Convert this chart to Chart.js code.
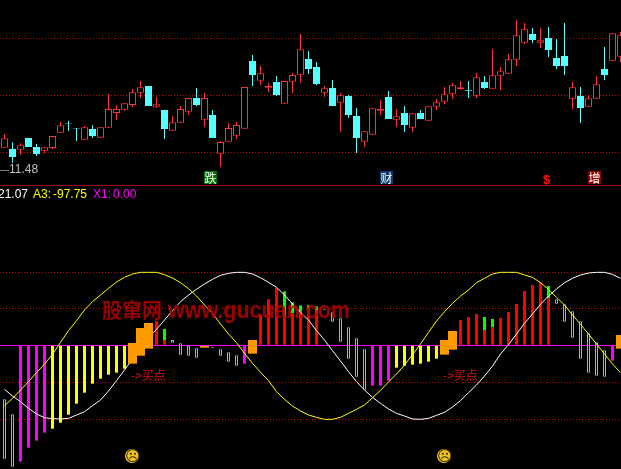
<!DOCTYPE html>
<html>
<head>
<meta charset="utf-8">
<title>股窜网</title>
<script src="https://cdn.jsdelivr.net/npm/chart.js@4"></script>
<style>
html, body { margin: 0; padding: 0; background: #000; width: 621px; height: 469px; overflow: hidden; }
canvas { position: absolute; left: 0; display: block; }
#priceChart { top: 0; }
#oscChart { top: 186px; }
#sep { position: absolute; left: 0; top: 185px; width: 621px; height: 1px; background: #a00000; }
.lbl { position: absolute; white-space: nowrap; line-height: 1; font-family: "Liberation Sans", sans-serif; }
.badge { position: absolute; top: 171px; width: 13px; height: 13px; color: #fff; text-align: center; font: 12px/13px "Noto Sans CJK SC", sans-serif; }
.buy { position: absolute; top: 368px; color: #e01010; white-space: nowrap; font: 12px/14px "Noto Sans CJK SC", sans-serif; }
.sad { position: absolute; top: 449px; width: 14px; height: 14px; border-radius: 7px; background: #f2c41e; color: #3a2a00; text-align: center; font: 15px/14px "DejaVu Sans", sans-serif; overflow: hidden; }
</style>
</head>
<body>
<canvas id="priceChart" width="621" height="185"></canvas>
<div id="sep"></div>
<canvas id="oscChart" width="621" height="283"></canvas>

<div class="lbl" style="left:0;top:163px;font-size:12px;color:#c0c0c0"><span style="font-size:9px">—</span>11.48</div>
<div class="badge" style="left:204px;background:#007000">跌</div>
<div class="badge" style="left:380px;background:#0a3a70">财</div>
<div class="badge" style="left:588px;background:#8b0000">增</div>
<div class="lbl" style="left:543px;top:173px;font-size:13px;font-weight:bold;color:#ff1010">$</div>

<div class="lbl" style="left:-2px;top:188px;font-size:12px;color:#fff">21.07</div>
<div class="lbl" style="left:33px;top:188px;font-size:12px;color:#ffff00">A3:</div>
<div class="lbl" style="left:53px;top:188px;font-size:12px;color:#ffff00">-97.75</div>
<div class="lbl" style="left:93px;top:188px;font-size:12px;color:#ff00ff">X1:</div>
<div class="lbl" style="left:113px;top:188px;font-size:12px;color:#ff00ff">0.00</div>

<div class="lbl" style="left:102px;top:298px;font:bold 20px/24px 'Noto Sans CJK SC',sans-serif;color:rgba(170,0,0,.9)">股窜网</div>
<div class="lbl" style="left:168px;top:297px;font-size:21.5px;line-height:24px;font-weight:bold;color:rgba(170,0,0,.9);transform:scale(1,1.12);transform-origin:left top">www.gucuan.com</div>

<div class="buy" style="left:131px">-&gt;买点</div>
<div class="buy" style="left:443px">-&gt;买点</div>
<div class="sad" style="left:125px">☹</div>
<div class="sad" style="left:437px">☹</div>

<script>
// candles
var opens = [12.06,12.02,12.00,12.35,12.08,11.97,12.05,12.51,12.80,12.65,
  12.30,12.62,12.36,12.66,13.10,13.20,13.34,13.71,13.91,13.29,
  13.19,12.57,12.81,13.14,13.55,12.90,13.04,11.88,12.24,12.42,
  12.63,14.66,14.07,13.86,14.03,13.38,14.04,14.25,14.72,14.48,
  13.71,13.85,13.41,13.61,13.01,12.24,12.45,13.17,13.58,12.90,
  13.10,12.66,13.10,12.87,13.29,13.44,13.68,13.82,13.79,13.62,
  14.03,13.83,14.22,14.28,14.70,15.21,15.47,15.21,15.35,14.75,
  14.81,13.53,13.61,13.29,13.53,14.42,14.67,14.79];
var highs = [12.46,12.22,12.19,12.35,12.17,12.07,12.41,12.83,12.86,12.65,
  12.71,12.73,12.67,13.67,13.33,13.39,13.82,14.06,13.91,13.58,
  13.19,13.01,13.31,13.55,13.85,13.70,13.19,12.26,12.80,12.83,
  13.88,14.84,14.51,14.00,14.21,14.06,14.29,15.47,14.96,14.63,
  13.91,14.09,13.70,13.64,13.25,12.55,13.24,13.49,13.76,13.22,
  13.31,13.09,13.19,13.30,13.52,13.88,14.00,14.06,14.06,14.30,
  14.21,15.02,14.48,14.87,15.89,15.80,15.65,15.65,15.68,15.32,
  15.80,14.03,13.88,13.61,14.21,15.08,15.49,15.53];
var lows = [12.06,11.60,11.84,12.08,11.81,11.90,12.02,12.51,12.56,12.26,
  12.30,12.35,12.36,12.66,12.89,13.16,13.28,13.55,13.31,13.25,
  12.32,12.57,12.81,13.04,13.31,12.68,12.35,11.48,12.24,12.32,
  12.63,13.91,13.94,13.73,13.61,13.38,13.70,14.00,14.27,13.94,
  13.58,13.31,12.53,12.95,11.90,12.08,12.45,13.04,12.92,12.68,
  12.53,12.53,12.92,12.87,13.19,13.37,13.52,13.79,13.55,13.55,
  13.82,13.83,13.79,14.28,14.51,15.17,15.20,15.05,14.78,14.42,
  14.24,13.22,12.80,13.29,13.53,14.09,14.67,14.63];
var closes = [12.34,11.78,12.13,12.08,11.87,12.07,12.41,12.73,12.79,12.64,
  12.67,12.41,12.67,13.22,13.22,13.39,13.72,13.87,13.31,13.36,
  12.62,12.82,13.22,13.55,13.34,13.55,12.35,12.23,12.65,12.74,
  13.88,14.24,14.29,13.91,13.64,14.06,14.24,15.01,14.42,13.97,
  13.84,13.31,13.63,13.04,12.35,12.55,13.24,13.22,12.92,13.00,
  12.74,13.09,12.92,13.30,13.42,13.66,13.93,13.87,13.77,14.17,
  13.85,14.23,14.35,14.71,15.43,15.61,15.29,15.28,14.99,14.51,
  14.51,13.87,13.25,13.54,13.96,14.24,15.49,15.43];
var priceGrid = [15.34, 13.63, 11.92];

// oscillator lines
var yellowLine = [-90.5,-79.5,-67,-54.5,-41,-28,-13.5,4.5,22,37,
  53,65.5,75.5,85.5,95,102,107,109.5,109.5,109.5,
  106,101,94,85,74,60.5,48,32,17,4,
  -12,-27,-40.5,-53,-69.5,-81,-91,-98.5,-104.5,-108,
  -111,-111,-108,-102,-96,-89.5,-78.5,-67.5,-55,-43,
  -29.5,-14,2,19.5,36.5,50.5,63,74,83,94,
  100.5,107,109.5,109.5,109.5,105.5,102,94,84,72,
  60.5,45.5,31.5,17,2,-13,-28,-41];
var whiteLine = [-66,-76,-84.5,-94.5,-103,-108.5,-110,-110.5,-109.5,-104.5,
  -99.5,-90.5,-82,-68.5,-53,-37,-20.5,-3.5,12,24,
  38,52,65.5,75.5,84,92,99,105,108,109.5,
  109.5,107,101.5,94.5,87,75.5,62,49.5,38,22,
  8,-8,-23.5,-39.5,-54.5,-67,-78,-87,-95.5,-102,
  -106,-110.5,-111,-109.5,-105,-100.5,-92.5,-83,-71,-59.5,
  -46,-31,-13,1,17,33,47,61.5,74,84.5,
  94,100.5,105.5,108.5,109.5,109.5,106.5,100.5];

// oscillator bars: top, bottom and which colour each one has
var barTop = [-81,-103.5,0,0,0,0,0,0,0,0,
  0,0,0,0,0,0,3.5,26,33.5,36.5,
  8,8,3,0,-4.5,0,-2.5,-6,-10.5,-15,
  0,8,46.5,69,86,41,48,50.5,53,53,
  54.5,49.5,40.5,27,10.5,-6,0,0,0,0,
  0,0,0,0,0,8,21.5,38,42.5,47,
  23,27,41,50,62,81.5,90.5,95,71,69,
  61.5,51,36,18,4.5,-7.5,0,15.5];
var barBottom = [-170,-182,-174.5,-153.5,-143,-131,-125,-116,-104,-87.5,
  -71,-57.5,-50,-44,-41,-35,-27.5,-15.5,-5,0,
  0,4,-14,-15.5,-18.5,-3.5,-3.5,-15.5,-24.5,-30.5,
  -27.5,-12.5,0,0,0,0,0,0,0,0,
  53.5,35.5,5.5,-20,-47,-66.5,-60.5,-60.5,-53,-33.5,
  -30.5,-29,-27.5,-24.5,-20,-14,-6.5,0,0,0,
  0,0,0,0,0,0,0,0,0,62.5,
  35.5,11.5,-20,-41,-45.5,-47,-23,-5];
var barKind = ['b','b','m','m','m','m','y','y','y','y',
  'y','y','y','y','y','y','o','o','o','r',
  'r','b','b','b','b','o','b','b','b','b',
  'm','o','r','r','r','r','r','r','r','r',
  'b','b','b','b','b','b','m','m','m','y',
  'y','y','y','y','y','o','o','r','r','r',
  'r','r','r','r','r','r','r','r','r','b',
  'b','b','b','b','b','b','m','o'];
// green caps sitting on some red bars
var greenIndex = [20,35,36,37,38,39,60,61,68];
var greenTop = [24.5,81,64.5,60,60,58.5,42.5,39.5,89];
var oscGrid = [109.5,55.5,0,-55.5,-111];

var red = '#ff3333', cyan = '#55ffff';
var slot = 8; // pixels between two bars

Chart.defaults.animation = false;
Chart.defaults.responsive = false;
Chart.defaults.maintainAspectRatio = false;
Chart.defaults.devicePixelRatio = 1;
Chart.defaults.plugins.legend.display = false;
Chart.defaults.plugins.tooltip.enabled = false;

var xAxis = {
    type: 'linear', min: -0.5625, max: 77.0625, offset: false, display: false
};

function gridAxis(min, max, values) {
    return {
        min: min,
        max: max,
        afterBuildTicks: function (axis) {
            axis.ticks = values.map(function (v) { return { value: v }; });
        },
        ticks: { display: false },
        border: {
            display: false,
            dash: function (ctx) { return ctx.tick && ctx.tick.value === 0 ? [] : [1, 2]; }
        },
        grid: {
            drawTicks: false,
            lineWidth: 1,
            color: function (ctx) { return ctx.tick && ctx.tick.value === 0 ? '#ff00ff' : '#c00000'; }
        }
    };
}

// non grouped bars take their width from barPercentage, not barThickness
function floatBars(indexes, top, bottom, px, opts) {
    var ds = {
        type: 'bar',
        grouped: false,
        inflateAmount: 0,
        borderSkipped: false,
        categoryPercentage: 1,
        barPercentage: px / slot,
        data: indexes.map(function (i, n) {
            return { x: i, y: [bottom(i, n), top(i, n)] };
        })
    };
    for (var k in opts) ds[k] = opts[k];
    return ds;
}

// price pane: wicks behind, bodies in front
var all = opens.map(function (v, i) { return i; });
var isUp = function (i) { return closes[i] >= opens[i]; };
var upIdx = all.filter(isUp);
var downIdx = all.filter(function (i) { return !isUp(i); });

new Chart(document.getElementById('priceChart').getContext('2d'), {
    type: 'bar',
    data: {
        datasets: [
            floatBars(upIdx, function (i) { return highs[i]; }, function (i) { return lows[i]; }, 1,
                { backgroundColor: red, order: 2 }),
            floatBars(downIdx, function (i) { return highs[i]; }, function (i) { return lows[i]; }, 1,
                { backgroundColor: cyan, order: 2 }),
            floatBars(upIdx, function (i) { return closes[i]; }, function (i) { return opens[i]; }, 7,
                { backgroundColor: '#000', borderColor: red, borderWidth: 1, order: 1 }),
            floatBars(downIdx, function (i) { return opens[i]; }, function (i) { return closes[i]; }, 7,
                { backgroundColor: cyan, order: 1 })
        ]
    },
    options: {
        layout: { padding: 0 },
        scales: { x: xAxis, y: gridAxis(10.94, 16.49, priceGrid) }
    }
});

// oscillator pane
function kindBars(kind, px, opts) {
    var idx = all.filter(function (i) { return barKind[i] === kind; });
    return floatBars(idx, function (i) { return barTop[i]; }, function (i) { return barBottom[i]; }, px, opts);
}

function lineData(values) {
    return values.map(function (v, i) { return { x: i, y: v }; });
}

new Chart(document.getElementById('oscChart').getContext('2d'), {
    type: 'bar',
    data: {
        datasets: [
            kindBars('b', 3, { backgroundColor: '#000', borderColor: '#66c4ff', borderWidth: 1, order: 3 }),
            kindBars('m', 3, { backgroundColor: '#ff00ff', order: 3 }),
            kindBars('y', 3, { backgroundColor: '#ffff00', order: 3 }),
            kindBars('r', 3, { backgroundColor: '#ff0000', order: 3 }),
            floatBars(greenIndex, function (i, n) { return greenTop[n]; }, function (i) { return barTop[i]; }, 3,
                { backgroundColor: '#00ff00', order: 3 }),
            { type: 'line', data: lineData(yellowLine), borderColor: '#ffff00', borderWidth: 1, pointRadius: 0, tension: 0, order: 2 },
            { type: 'line', data: lineData(whiteLine), borderColor: '#ffffff', borderWidth: 1, pointRadius: 0, tension: 0, order: 2 },
            kindBars('o', 9, { backgroundColor: '#ff9900', order: 1 })
        ]
    },
    options: {
        layout: { padding: 0 },
        scales: { x: xAxis, y: gridAxis(-185.5, 239, oscGrid) }
    }
});
</script>
</body>
</html>
